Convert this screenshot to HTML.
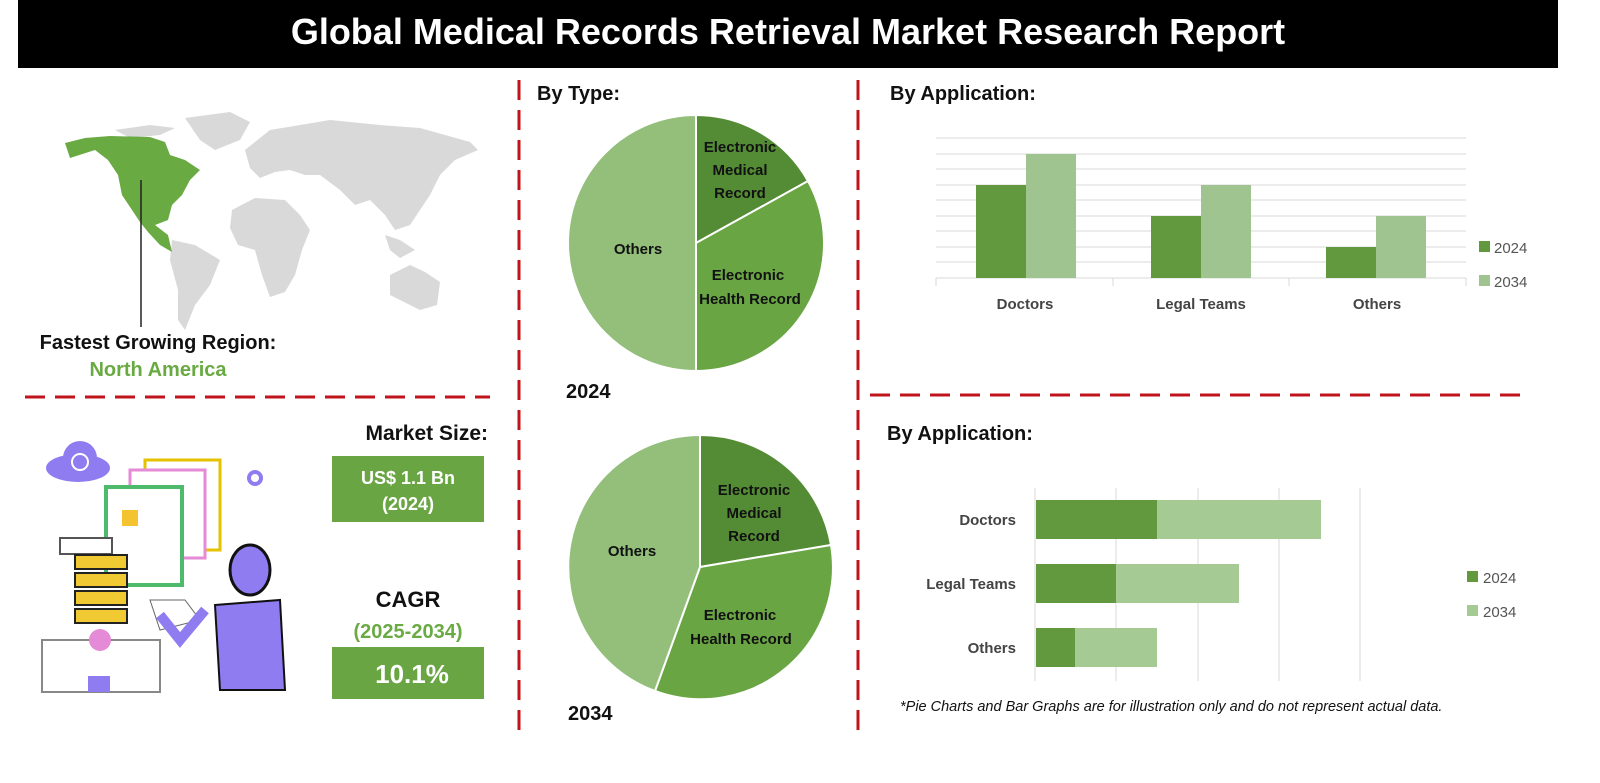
<!DOCTYPE html>
<html><head><meta charset="utf-8"><style>
body{margin:0;width:1600px;height:783px;background:#fff;overflow:hidden;font-family:"Liberation Sans",sans-serif;}
.abs{position:absolute;}
</style></head><body>
<div class="abs" style="left:18px;top:0;width:1540px;height:68px;background:#000;color:#fff;font-weight:bold;font-size:36px;text-align:center;line-height:64px;">Global Medical Records Retrieval Market Research Report</div>
<svg class="abs" style="left:0;top:0" width="1600" height="783" xmlns="http://www.w3.org/2000/svg" font-family="Liberation Sans, sans-serif">
<g stroke="#c0141c" stroke-width="3" stroke-dasharray="20,10">
<line x1="519" y1="80" x2="519" y2="735"/>
<line x1="858" y1="80" x2="858" y2="735"/>
<line x1="25" y1="397" x2="490" y2="397"/>
<line x1="870" y1="395" x2="1525" y2="395"/>
</g>
<g fill="#d9d9d9">
<path d="M185,118 L230,112 L250,122 L240,140 L215,150 L200,140 Z"/>
<path d="M115,130 L150,125 L175,128 L160,135 L130,138 Z"/>
<path d="M245,150 L270,130 L300,125 L330,120 L380,125 L420,128 L470,142 L478,150 L455,160 L440,175 L430,195 L420,210 L410,225 L395,230 L385,215 L370,200 L355,205 L340,190 L320,175 L305,175 L290,170 L275,172 L260,178 L250,168 Z"/>
<path d="M232,210 L255,198 L285,200 L300,215 L310,230 L302,250 L295,275 L285,292 L270,297 L262,275 L255,250 L238,245 L230,228 Z"/>
<path d="M172,240 L195,245 L220,260 L210,285 L195,305 L185,330 L178,320 L178,290 L170,260 Z"/>
<path d="M390,275 L410,265 L425,272 L440,282 L437,305 L420,310 L400,300 L390,295 Z"/>
<path d="M385,235 L400,240 L415,250 L400,258 L390,250 Z"/>
</g>
<path fill="#6aaa43" d="M65,143 L85,138 L110,136 L150,137 L165,142 L170,155 L185,160 L200,170 L190,180 L182,195 L172,205 L168,220 L155,225 L168,235 L172,252 L160,245 L148,232 L140,222 L132,210 L122,195 L118,175 L108,160 L95,150 L70,158 Z"/>
<line x1="141" y1="180" x2="141" y2="327" stroke="#222" stroke-width="1.5"/>
<text x="158" y="349" font-size="20" font-weight="bold" text-anchor="middle" fill="#111">Fastest Growing Region:</text>
<text x="158" y="376" font-size="20" font-weight="bold" text-anchor="middle" fill="#6aaa43">North America</text>
<g>
<ellipse cx="78" cy="468" rx="32" ry="14" fill="#8f7cf0"/><circle cx="80" cy="458" r="17" fill="#8f7cf0"/>
<circle cx="80" cy="462" r="8" fill="none" stroke="#fff" stroke-width="2"/>
<rect x="145" y="460" width="75" height="90" fill="#fff" stroke="#e4c200" stroke-width="3"/>
<rect x="130" y="470" width="75" height="88" fill="#fff" stroke="#e58ad6" stroke-width="3"/>
<rect x="106" y="487" width="76" height="98" fill="#fff" stroke="#4dbb6b" stroke-width="4"/>
<rect x="122" y="510" width="16" height="16" fill="#f3c430"/>
<rect x="60" y="538" width="52" height="16" fill="#fff" stroke="#555" stroke-width="2"/>
<rect x="75" y="555" width="52" height="14" fill="#f0c933" stroke="#222" stroke-width="2"/>
<rect x="75" y="573" width="52" height="14" fill="#f0c933" stroke="#222" stroke-width="2"/>
<rect x="75" y="591" width="52" height="14" fill="#f0c933" stroke="#222" stroke-width="2"/>
<rect x="75" y="609" width="52" height="14" fill="#f0c933" stroke="#222" stroke-width="2"/>
<rect x="42" y="640" width="118" height="52" fill="#fff" stroke="#888" stroke-width="2"/>
<circle cx="100" cy="640" r="11" fill="#e58ad6"/>
<rect x="88" y="676" width="22" height="16" fill="#8f7cf0"/>
<path d="M150,600 L185,600 L200,620 L160,630 Z" fill="#fff" stroke="#666"/>
<ellipse cx="250" cy="570" rx="20" ry="25" fill="#8f7cf0" stroke="#111" stroke-width="3"/>
<path d="M215,605 L280,600 L285,690 L220,690 Z" fill="#8f7cf0" stroke="#111" stroke-width="2"/>
<path d="M205,610 L180,640 L160,615" fill="none" stroke="#8f7cf0" stroke-width="10"/>
<circle cx="255" cy="478" r="6" fill="none" stroke="#8f7cf0" stroke-width="4"/>
</g>
<text x="488" y="440" font-size="21" font-weight="bold" text-anchor="end" fill="#111">Market Size:</text>
<rect x="332" y="456" width="152" height="66" fill="#6aa544"/>
<text x="408" y="484" font-size="18" font-weight="bold" text-anchor="middle" fill="#fff">US$ 1.1 Bn</text>
<text x="408" y="510" font-size="18" font-weight="bold" text-anchor="middle" fill="#fff">(2024)</text>
<text x="408" y="607" font-size="22" font-weight="bold" text-anchor="middle" fill="#111">CAGR</text>
<text x="408" y="638" font-size="20" font-weight="bold" text-anchor="middle" fill="#6aaa43">(2025-2034)</text>
<rect x="332" y="647" width="152" height="52" fill="#6aa544"/>
<text x="412" y="683" font-size="26" font-weight="bold" text-anchor="middle" fill="#fff">10.1%</text>
<text x="537" y="100" font-size="20" font-weight="bold" fill="#111">By Type:</text>
<g stroke="#fff" stroke-width="2">
<path d="M696,243 L696,115 A128,128 0 0,0 696,371 Z" fill="#93bf7b"/>
<path d="M696,243 L696,115 A128,128 0 0,1 808,181 Z" fill="#548c35"/>
<path d="M696,243 L808,181 A128,128 0 0,1 696,371 Z" fill="#6aa544"/>
</g>
<g font-size="15" font-weight="bold" fill="#111" text-anchor="middle">
<text x="638" y="254">Others</text>
<text x="740" y="152">Electronic</text><text x="740" y="175">Medical</text><text x="740" y="198">Record</text>
<text x="748" y="280">Electronic</text><text x="750" y="304">Health Record</text>
</g>
<text x="566" y="398" font-size="20" font-weight="bold" fill="#111">2024</text>
<g stroke="#fff" stroke-width="2">
<path d="M700,567 L700,435 A132,132 0 0,1 831,545 Z" fill="#548c35"/>
<path d="M700,567 L831,545 A132,132 0 0,1 655,691 Z" fill="#6aa544"/>
<path d="M700,567 L655,691 A132,132 0 0,1 700,435 Z" fill="#93bf7b"/>
</g>
<g font-size="15" font-weight="bold" fill="#111" text-anchor="middle">
<text x="632" y="556">Others</text>
<text x="754" y="495">Electronic</text><text x="754" y="518">Medical</text><text x="754" y="541">Record</text>
<text x="740" y="620">Electronic</text><text x="741" y="644">Health Record</text>
</g>
<text x="568" y="720" font-size="20" font-weight="bold" fill="#111">2034</text>
<text x="890" y="100" font-size="20" font-weight="bold" fill="#111">By Application:</text>
<g stroke="#d9d9d9" stroke-width="1">
<line x1="936" y1="138" x2="1466" y2="138"/><line x1="936" y1="154" x2="1466" y2="154"/>
<line x1="936" y1="169" x2="1466" y2="169"/><line x1="936" y1="185" x2="1466" y2="185"/>
<line x1="936" y1="200" x2="1466" y2="200"/><line x1="936" y1="216" x2="1466" y2="216"/>
<line x1="936" y1="231" x2="1466" y2="231"/><line x1="936" y1="247" x2="1466" y2="247"/>
<line x1="936" y1="262" x2="1466" y2="262"/><line x1="936" y1="278" x2="1466" y2="278"/>
<line x1="936" y1="278" x2="936" y2="286"/><line x1="1113" y1="278" x2="1113" y2="286"/><line x1="1289" y1="278" x2="1289" y2="286"/><line x1="1466" y1="278" x2="1466" y2="286"/>
</g>
<rect x="976" y="185" width="50" height="93" fill="#62993e"/><rect x="1026" y="154" width="50" height="124" fill="#a0c48f"/>
<rect x="1151" y="216" width="50" height="62" fill="#62993e"/><rect x="1201" y="185" width="50" height="93" fill="#a0c48f"/>
<rect x="1326" y="247" width="50" height="31" fill="#62993e"/><rect x="1376" y="216" width="50" height="62" fill="#a0c48f"/>
<g font-size="15" fill="#444" text-anchor="middle" font-weight="bold">
<text x="1025" y="309">Doctors</text><text x="1201" y="309">Legal Teams</text><text x="1377" y="309">Others</text>
</g>
<rect x="1479" y="241" width="11" height="11" fill="#62993e"/><text x="1494" y="253" font-size="15" fill="#555">2024</text>
<rect x="1479" y="275" width="11" height="11" fill="#a0c48f"/><text x="1494" y="287" font-size="15" fill="#555">2034</text>
<text x="887" y="440" font-size="20" font-weight="bold" fill="#111">By Application:</text>
<g stroke="#d9d9d9" stroke-width="1">
<line x1="1035" y1="488" x2="1035" y2="681"/><line x1="1116" y1="488" x2="1116" y2="681"/>
<line x1="1198" y1="488" x2="1198" y2="681"/><line x1="1279" y1="488" x2="1279" y2="681"/>
<line x1="1360" y1="488" x2="1360" y2="681"/>
</g>
<rect x="1036" y="500" width="121" height="39" fill="#62993e"/><rect x="1157" y="500" width="164" height="39" fill="#a6ca94"/>
<rect x="1036" y="564" width="80" height="39" fill="#62993e"/><rect x="1116" y="564" width="123" height="39" fill="#a6ca94"/>
<rect x="1036" y="628" width="39" height="39" fill="#62993e"/><rect x="1075" y="628" width="82" height="39" fill="#a6ca94"/>
<g font-size="15" fill="#444" text-anchor="end" font-weight="bold">
<text x="1016" y="525">Doctors</text><text x="1016" y="589">Legal Teams</text><text x="1016" y="653">Others</text>
</g>
<rect x="1467" y="571" width="11" height="11" fill="#62993e"/><text x="1483" y="583" font-size="15" fill="#555">2024</text>
<rect x="1467" y="605" width="11" height="11" fill="#a6ca94"/><text x="1483" y="617" font-size="15" fill="#555">2034</text>
<text x="900" y="711" font-size="14.5" font-style="italic" fill="#111">*Pie Charts and Bar Graphs are for illustration only and do not represent actual data.</text>
</svg>
</body></html>
